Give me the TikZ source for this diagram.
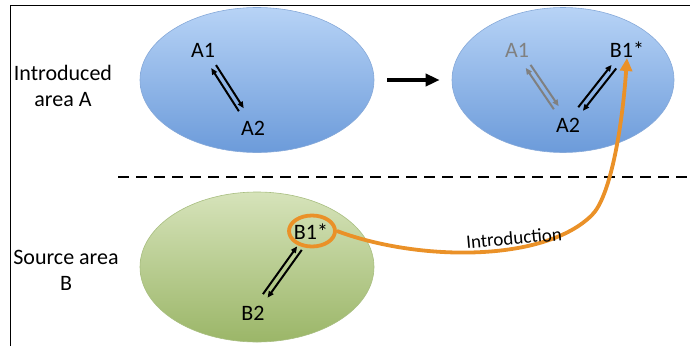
\documentclass[tikz,border=0pt]{standalone}
\usepackage{fontspec}
\setmainfont{Carlito}
\usetikzlibrary{arrows.meta,shapes.geometric}
\definecolor{blueTop}{HTML}{B7D3F6}
\definecolor{blueBot}{HTML}{6C9BDA}
\definecolor{blueEdge}{HTML}{86A9D9}
\definecolor{greenTop}{HTML}{D6E3BA}
\definecolor{greenBot}{HTML}{9BB668}
\definecolor{greenEdge}{HTML}{A8BE80}
\definecolor{orangeLine}{HTML}{EA9128}
\definecolor{fadeGray}{HTML}{808080}
\tikzset{
  blob/.style={ellipse, inner sep=0pt, line width=0.6pt},
  blueblob/.style={blob, draw=blueEdge, top color=blueTop, bottom color=blueBot},
  greenblob/.style={blob, draw=greenEdge, top color=greenTop, bottom color=greenBot},
  lbl/.style={inner sep=0pt, font=\fontsize{22}{26}\selectfont},
  sidelbl/.style={align=center, inner sep=0pt, font=\fontsize{22}{26}\selectfont},
  harr/.style={line width=2pt, -{Triangle[length=6.5pt,width=5.5pt]}},
  bigarr/.style={line width=3.5pt, -{Triangle[length=14pt,width=12pt]}},
  orange/.style={draw=orangeLine, line width=3.8pt},
}
\begin{document}
\begin{tikzpicture}[x=1pt,y=-1pt]
\useasboundingbox (0,0) rectangle (690,346);
% frame
\draw[line width=1pt] (10,346) -- (10,5) -- (690,5);
% ellipses
\node[blueblob, minimum width=234, minimum height=145] (EA) at (257,80) {};
\node[blueblob, minimum width=222, minimum height=145] (EB) at (563,80) {};
\node[greenblob, minimum width=234, minimum height=150] (EG) at (257,267) {};
% side labels
\node[sidelbl] (LA) at (63,86) {Introduced\\area A};
\node[sidelbl] (LB) at (66,270) {Source area\\B};
% dashed divider
\coordinate (D1) at (118,177);
\coordinate (D2) at (690,177);
\draw[line width=2.8pt, dash pattern=on 11pt off 7pt] (D1) -- (D2);
% left blue ellipse
\node[lbl] (A1) at (203,50) {A1};
\node[lbl] (A2) at (253,128) {A2};
\draw[harr, shorten <=11pt, shorten >=13pt, transform canvas={shift={(2.4,-1.5)}}] (A1) -- (A2);
\draw[harr, shorten <=13pt, shorten >=11pt, transform canvas={shift={(-2.4,1.5)}}] (A2) -- (A1);
% big arrow
\draw[bigarr, shorten <=13pt, shorten >=12pt] (EA.east) -- (EB.west);
% right blue ellipse
\node[lbl, text=fadeGray] (A1g) at (517,50) {A1};
\node[lbl] (B1a) at (627,50) {B1*};
\node[lbl] (A2r) at (568,125) {A2};
\draw[harr, draw=fadeGray, shorten <=11pt, shorten >=12pt, transform canvas={shift={(2.4,-1.5)}}] (A1g) -- (A2r);
\draw[harr, draw=fadeGray, shorten <=12pt, shorten >=11pt, transform canvas={shift={(-2.4,1.5)}}] (A2r) -- (A1g);
\draw[harr, shorten <=11pt, shorten >=11pt, transform canvas={shift={(-2.3,-1.8)}}] (A2r) -- (B1a);
\draw[harr, shorten <=11pt, shorten >=11pt, transform canvas={shift={(2.3,1.8)}}] (B1a) -- (A2r);
% green ellipse
\node[lbl] (B1) at (311,232) {B1*};
\node[ellipse, orange, minimum width=46, minimum height=31, inner sep=0pt] (B1o) at (312,231) {};
\node[lbl] (B2) at (253,313) {B2};
\draw[harr, shorten <=12pt, shorten >=10pt, transform canvas={shift={(-2.3,-1.8)}}] (B2) -- (B1);
\draw[harr, shorten <=10pt, shorten >=12pt, transform canvas={shift={(2.3,1.8)}}] (B1) -- (B2);
% introduction curve
\draw[orange, -{Triangle[length=13pt,width=12pt]}]
  (B1o.east) .. controls (420,262) and (545,262) .. (592,215)
  .. controls (610,197) and (622,130) .. (B1a.south);
\node[inner sep=0pt, rotate=5, font=\fontsize{19}{22}\selectfont] (intro) at (514,238) {Introduction};
\end{tikzpicture}
\end{document}
